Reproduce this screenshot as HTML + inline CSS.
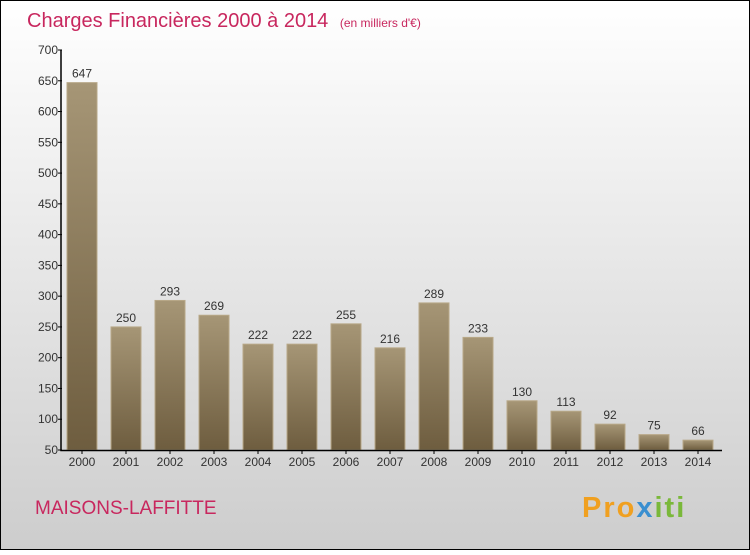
<!DOCTYPE html>
<html><head><meta charset="utf-8"><style>
html,body{margin:0;padding:0}
body{width:750px;height:550px;overflow:hidden;font-family:"Liberation Sans",sans-serif}
</style></head><body>
<svg id="c" width="750" height="550" xmlns="http://www.w3.org/2000/svg">
<defs>
<linearGradient id="bg" x1="0" y1="0" x2="0" y2="1"><stop offset="0" stop-color="#ffffff"/><stop offset="1" stop-color="#cdcdcd"/></linearGradient>
<linearGradient id="bar" x1="0" y1="0" x2="0" y2="1"><stop offset="0" stop-color="#a69676"/><stop offset="1" stop-color="#6e5d3f"/></linearGradient>
</defs>
<rect x="0.5" y="0.5" width="749" height="549" fill="url(#bg)" stroke="#000"/>
<text x="27" y="27" font-size="20" fill="#c8275e">Charges Financières 2000 à 2014 <tspan font-size="12" dx="6">(en milliers d'€)</tspan></text>
<text x="35" y="514" font-size="19" fill="#c8275e">MAISONS-LAFFITTE</text>
<text x="582" y="517" font-size="29" font-weight="bold" letter-spacing="2" fill="#f0a020">Pro<tspan fill="#3a8fd0">x</tspan><tspan fill="#7ab83a">iti</tspan></text>
<g id="plot"></g>
</svg>
<script>
const categories=["2000","2001","2002","2003","2004","2005","2006","2007","2008","2009","2010","2011","2012","2013","2014"];
const values=[647,250,293,269,222,222,255,216,289,233,130,113,92,75,66];
const yTicks=[50,100,150,200,250,300,350,400,450,500,550,600,650,700];
const ns="http://www.w3.org/2000/svg";
const g=document.getElementById('plot');
const y0=450,y1=50,vmin=50,vmax=700;
const y=v=>y0-(v-vmin)/(vmax-vmin)*(y0-y1);
const x=i=>82+i*44;
function el(t,a,txt){const e=document.createElementNS(ns,t);for(const k in a)e.setAttribute(k,a[k]);if(txt!==undefined)e.textContent=txt;g.appendChild(e);return e;}
values.forEach((v,i)=>{
 const r=el('rect',{x:x(i)-15,y:y(v),width:30,height:y0-y(v),fill:'url(#bar)',stroke:'#b8a888','stroke-width':1});
 
 
 const t=el('text',{x:x(i),y:y(v)-5,'text-anchor':'middle','font-size':12,fill:'#333'},v);
 
 
 const c=el('text',{x:x(i),y:466,'text-anchor':'middle','font-size':12,fill:'#333'},categories[i]);
 
 
 el('line',{x1:x(i),x2:x(i),y1:450,y2:454,stroke:'#000'});
});
yTicks.forEach(v=>{
 el('line',{x1:58,x2:62,y1:y(v),y2:y(v),stroke:'#000'});
 const t=el('text',{x:58,y:y(v)+4,'text-anchor':'end','font-size':12,fill:'#333'},v);
 
 
});
const ax=el('path',{d:'M61,50 V450.5 H722',stroke:'#000','stroke-width':1.5,fill:'none'});


</script>
</body></html>
